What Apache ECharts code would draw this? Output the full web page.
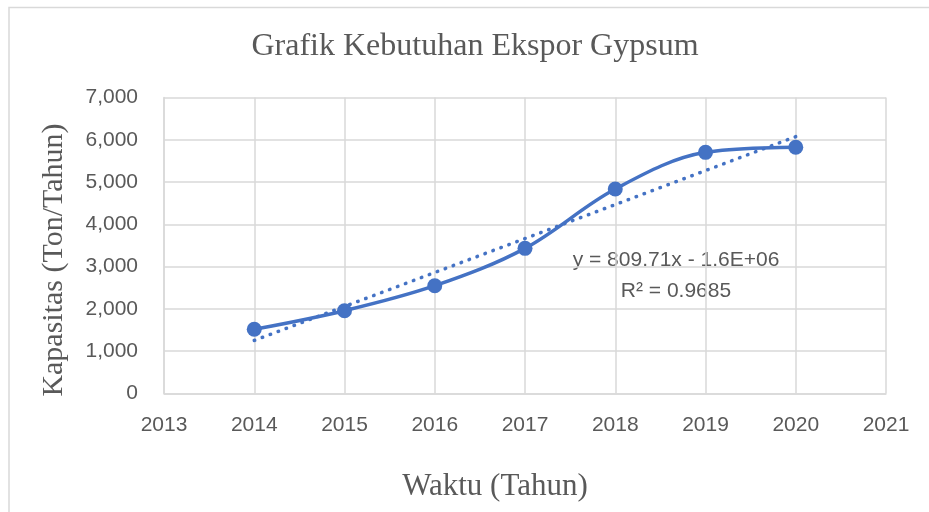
<!DOCTYPE html>
<html>
<head>
<meta charset="utf-8">
<script src="https://cdn.jsdelivr.net/npm/echarts@6/dist/echarts.min.js"></script>
<style>
html,body{margin:0;padding:0;background:#fff;}
#chart{width:929px;height:512px;}
</style>
</head>
<body>
<div id="chart"></div>
<script>
// Data
var years = [2014, 2015, 2016, 2017, 2018, 2019, 2020];
var kapasitas = [1518, 1958, 2549, 3433, 4836, 5703, 5822];
// Linear trendline endpoints as drawn in the reference
var trendYears = [2014, 2020];
var trendValues = [1255, 6075];
var titleText = 'Grafik Kebutuhan Ekspor Gypsum';
var xAxisTitle = 'Waktu (Tahun)';
var yAxisTitle = 'Kapasitas (Ton/Tahun)';
var equationLines = ['y = 809.71x - 1.6E+06', 'R\u00b2 = 0.9685'];

var chart = echarts.init(document.getElementById('chart'), null, {renderer: 'canvas'});
var blue = '#4472C4';
var gray = '#595959';
var gridColor = '#D9D9D9';

function pair(xs, ys) { return xs.map(function (x, i) { return [x, ys[i]]; }); }

var option = {
  animation: false,
  backgroundColor: '#fff',
  grid: {left: 164, right: 43, top: 97.5, bottom: 118.5, containLabel: false},
  xAxis: {
    type: 'value', min: 2013, max: 2021, interval: 1,
    axisLine: {show: true, lineStyle: {color: gridColor, width: 1.5}},
    axisTick: {show: false},
    splitLine: {show: true, lineStyle: {color: gridColor, width: 1.5}},
    axisLabel: {color: gray, fontFamily: 'Liberation Sans', fontSize: 21, margin: 21,
      formatter: function (v) { return String(v); }}
  },
  yAxis: {
    type: 'value', min: 0, max: 7000, interval: 1000,
    axisLine: {show: true, lineStyle: {color: gridColor, width: 1.5}},
    axisTick: {show: false},
    splitLine: {show: true, lineStyle: {color: gridColor, width: 1.5}},
    axisLabel: {color: gray, fontFamily: 'Liberation Sans', fontSize: 21, margin: 26,
      formatter: function (v) { return v.toLocaleString('en-US'); }}
  },
  graphic: [
    {type: 'rect', shape: {x: 9, y: 7.5, width: 940, height: 520}, style: {fill: null, stroke: gridColor, lineWidth: 1.5}, silent: true, z: -1},
    {type: 'text', x: 475, y: 47, style: {text: titleText, font: '32px "Liberation Serif"', fill: gray, textAlign: 'center', textVerticalAlign: 'middle'}},
    {type: 'text', x: 495, y: 487, style: {text: xAxisTitle, font: '31px "Liberation Serif"', fill: gray, textAlign: 'center', textVerticalAlign: 'middle'}},
    {type: 'text', x: 54, y: 260, rotation: Math.PI / 2, style: {text: yAxisTitle, font: '30px "Liberation Serif"', fill: gray, textAlign: 'center', textVerticalAlign: 'middle'}},
    {type: 'text', x: 676, y: 260, style: {text: equationLines[0], font: '21px "Liberation Sans"', fill: gray, textAlign: 'center', textVerticalAlign: 'middle'}},
    {type: 'text', x: 676, y: 291, style: {text: equationLines[1], font: '21px "Liberation Sans"', fill: gray, textAlign: 'center', textVerticalAlign: 'middle'}}
  ],
  series: [
    {
      type: 'line', name: 'Kapasitas', data: pair(years, kapasitas),
      smooth: 0.35, symbol: 'circle', symbolSize: 15,
      lineStyle: {color: blue, width: 3.5},
      itemStyle: {color: blue},
      z: 3
    },
    {
      type: 'line', name: 'Trend', data: pair(trendYears, trendValues),
      symbol: 'none',
      lineStyle: {color: blue, width: 3.5, type: [0.5, 8], cap: 'round'},
      z: 2
    }
  ]
};
chart.setOption(option);
</script>
</body>
</html>
